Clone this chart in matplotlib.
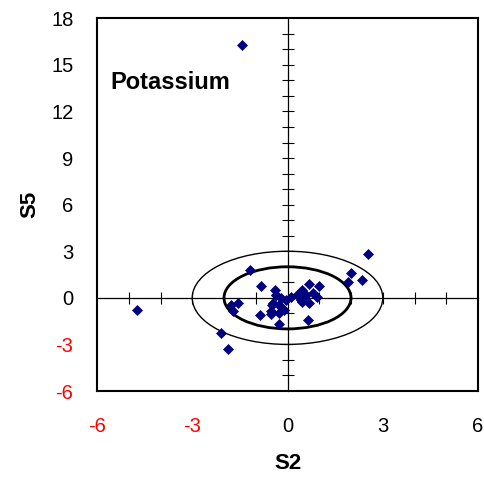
import numpy as np
import matplotlib.pyplot as plt
from matplotlib.patches import Ellipse

plt.rcParams['font.family'] = ['Liberation Sans', 'DejaVu Sans']
plt.rcParams['axes.unicode_minus'] = False

# S2 / S5 scores for each sample
s2 = [-1.43, -4.75, 2.54, 2.00, 1.92, 2.35, -1.18, -0.84, -1.79, -1.57,
      -1.73, -2.08, -1.87, -0.86, -0.52, -0.28, -0.49, 0.63, 0.68, 0.98,
      -0.39, 0.47, 0.31, 0.58, 0.80, 0.94, 0.11, -0.05, -0.21, -0.37,
      -0.47, 0.47, 0.68, -0.26, -0.16, -0.52, -0.26, -0.35, 0.42, -0.10]
s5 = [16.3, -0.81, 2.83, 1.63, 1.05, 1.14, 1.78, 0.77, -0.47, -0.34,
      -0.82, -2.29, -3.28, -1.11, -1.07, -1.70, -0.45, -1.41, 0.90, 0.79,
      0.51, 0.51, 0.19, 0.19, 0.30, 0.08, 0.08, -0.13, -0.02, 0.19,
      -0.34, -0.24, -0.34, -0.45, -0.66, -0.88, -0.98, 0.19, -0.13, -0.77]

# confidence ellipses (semi-axes in S2 and S5 units)
ellipse_radii = [2, 3]
ellipse_widths = [2.0, 1.0]

xticks = [-6, -3, 0, 3, 6]
yticks = [-6, -3, 0, 3, 6, 9, 12, 15, 18]

fig = plt.figure(figsize=(4.85, 4.79), dpi=100)
pos = [0.2, 0.1837, 0.7856, 0.7781]

# axes crossing at the origin with small cross ticks
axc = fig.add_axes(pos, zorder=0)
axc.set_xlim(-6, 6)
axc.set_ylim(-6, 18)
for side in ['top', 'right']:
    axc.spines[side].set_visible(False)
axc.spines['left'].set_position(('data', 0))
axc.spines['bottom'].set_position(('data', 0))
axc.spines['left'].set_linewidth(0.9)
axc.spines['bottom'].set_linewidth(0.9)
axc.set_xticks([v for v in range(-6, 7) if v != 0 and abs(v) != 6])
axc.set_yticks([v for v in range(-6, 19) if v != 0 and v not in (-6, 18)])
axc.tick_params(direction='inout', length=9, width=0.8, labelbottom=False, labelleft=False)

ax = fig.add_axes(pos, zorder=1)
ax.patch.set_visible(False)
ax.set_xlim(-6, 6)
ax.set_ylim(-6, 18)
for sp in ax.spines.values():
    sp.set_linewidth(1.5)
ax.set_xticks(xticks)
ax.set_yticks(yticks)
ax.tick_params(length=0, labelsize=14.5)
ax.tick_params(axis='x', pad=19)
ax.tick_params(axis='y', pad=17)
for lab, v in zip(ax.get_xticklabels(), xticks):
    lab.set_color('red' if v < 0 else 'black')
for lab, v in zip(ax.get_yticklabels(), yticks):
    lab.set_color('red' if v < 0 else 'black')

for r, lw in zip(ellipse_radii, ellipse_widths):
    ax.add_patch(Ellipse((0, 0), 2 * r, 2 * r, fill=False, edgecolor='black', linewidth=lw))

ax.plot(s2, s5, linestyle='none', marker='D', markersize=5,
        color='#000080', markeredgewidth=0.5, clip_on=False)

ax.text(0.034, 0.829, 'Potassium', transform=ax.transAxes, fontsize=17,
        fontweight='bold', va='center', ha='left')

ax.set_xlabel('S2', fontsize=16, fontweight='bold', labelpad=12)
ax.set_ylabel('S5', fontsize=16, fontweight='bold', labelpad=8)

fig.savefig('out.png', dpi=100)
